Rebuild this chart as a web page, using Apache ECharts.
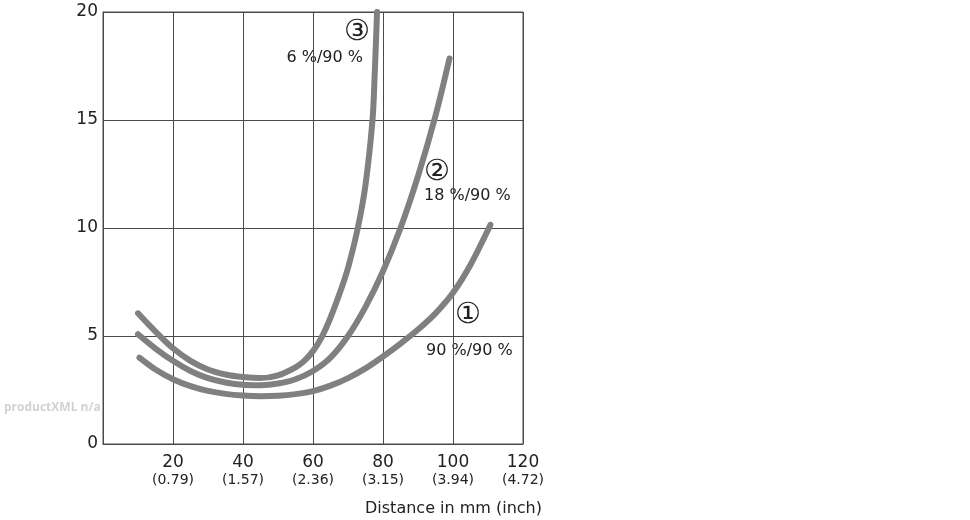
<!DOCTYPE html>
<html>
<head>
<meta charset="utf-8">
<script src="https://cdn.jsdelivr.net/npm/echarts@6/dist/echarts.min.js"></script>
<style>
html,body{margin:0;padding:0;background:#fff;}
#main{width:970px;height:520px;}
</style>
</head>
<body>
<div id="main"></div>
<script>
// Distance values (mm) and tick labels
const xTicks = [0, 20, 40, 60, 80, 100, 120];
const xInch = {20:'(0.79)', 40:'(1.57)', 60:'(2.36)', 80:'(3.15)', 100:'(3.94)', 120:'(4.72)'};
const yTicks = [0, 5, 10, 15, 20];

// Curve ① 90 %/90 %
const curve1 = [[10.4,4.0],[15,3.45],[20,3.0],[25,2.68],[30,2.46],[35,2.32],[40,2.24],[45,2.21],[50,2.23],[55,2.31],[60,2.45],[65,2.7],[70,3.05],[75,3.5],[80,4.05],[85,4.65],[90,5.3],[95,6.05],[100,7.0],[105,8.3],[110.7,10.15]];
// Curve ② 18 %/90 %
const curve2 = [[10,5.08],[15,4.42],[20,3.85],[25,3.38],[30,3.05],[35,2.85],[40,2.74],[45,2.72],[50,2.8],[55,3.0],[60,3.38],[65,4.0],[70,5.0],[75,6.35],[80,8.0],[85,10.0],[90,12.4],[95,15.2],[99,17.85]];
// Curve ③ 6 %/90 %
const curve3 = [[10,6.05],[15,5.2],[20,4.43],[25,3.85],[30,3.45],[35,3.22],[40,3.1],[45,3.05],[50,3.18],[55,3.55],[57.5,3.85],[60,4.3],[62.5,4.95],[65,5.85],[68,7.15],[70,8.15],[72.8,10],[75,12.0],[77,15],[77.6,17.0],[78.3,20]];

const labels = [
  {mark:'③', text:'6 %/90 %'},
  {mark:'②', text:'18 %/90 %'},
  {mark:'①', text:'90 %/90 %'}
];

const chart = echarts.init(document.getElementById('main'), null, {renderer:'canvas'});
const FONT = '"DejaVu Sans", sans-serif';
const TXT = '#222';
const LINE = '#808080';
const GRIDC = '#4a4a4a';

function lineSeries(data){
  return {
    type:'line', data:data, smooth:0.33, symbol:'none',
    lineStyle:{color:LINE, width:6, cap:'round', join:'round'},
    clip:false
  };
}

chart.setOption({
  animation:false,
  backgroundColor:'#fff',
  grid:{left:103, top:12, width:420, height:432, show:true, borderColor:GRIDC, borderWidth:1, backgroundColor:'transparent'},
  xAxis:{
    type:'value', min:0, max:120, interval:20,
    axisLine:{show:true, lineStyle:{color:GRIDC, width:1}},
    axisTick:{show:false},
    splitLine:{show:true, lineStyle:{color:GRIDC, width:1}},
    axisLabel:{
      margin:10,
      formatter:function(v){ if(v===0) return ''; return '{a|'+v+'}\n{b|'+xInch[v]+'}'; },
      rich:{
        a:{fontFamily:FONT, fontSize:17, color:TXT, lineHeight:18, align:'center'},
        b:{fontFamily:FONT, fontSize:14, color:TXT, lineHeight:17, align:'center'}
      }
    }
  },
  yAxis:{
    type:'value', min:0, max:20, interval:5,
    axisLine:{show:true, lineStyle:{color:GRIDC, width:1}},
    axisTick:{show:false},
    splitLine:{show:true, lineStyle:{color:GRIDC, width:1}},
    axisLabel:{margin:5, fontFamily:FONT, fontSize:17, color:TXT}
  },
  series:[lineSeries(curve1), lineSeries(curve2), lineSeries(curve3)],
  graphic:[
    {type:'text', right:970-542, top:501, style:{text:'Distance in mm (inch)', font:'16px '+FONT, fill:TXT}},
    {type:'text', left:4, top:402, style:{text:'productXML n/a', font:'bold 12px "Open Sans", sans-serif', fill:'#d2d2d2'}},
    {type:'text', x:357, y:32, style:{text:labels[0].mark, font:'29px '+FONT, fill:TXT, align:'center', verticalAlign:'middle'}},
    {type:'text', x:363, y:58, style:{text:labels[0].text, font:'16px '+FONT, fill:TXT, align:'right', verticalAlign:'middle'}},
    {type:'text', x:437, y:172, style:{text:labels[1].mark, font:'29px '+FONT, fill:TXT, align:'center', verticalAlign:'middle'}},
    {type:'text', x:424, y:196, style:{text:labels[1].text, font:'16px '+FONT, fill:TXT, align:'left', verticalAlign:'middle'}},
    {type:'text', x:468, y:315, style:{text:labels[2].mark, font:'29px '+FONT, fill:TXT, align:'center', verticalAlign:'middle'}},
    {type:'text', x:426, y:351, style:{text:labels[2].text, font:'16px '+FONT, fill:TXT, align:'left', verticalAlign:'middle'}}
  ]
});
</script>
</body>
</html>
